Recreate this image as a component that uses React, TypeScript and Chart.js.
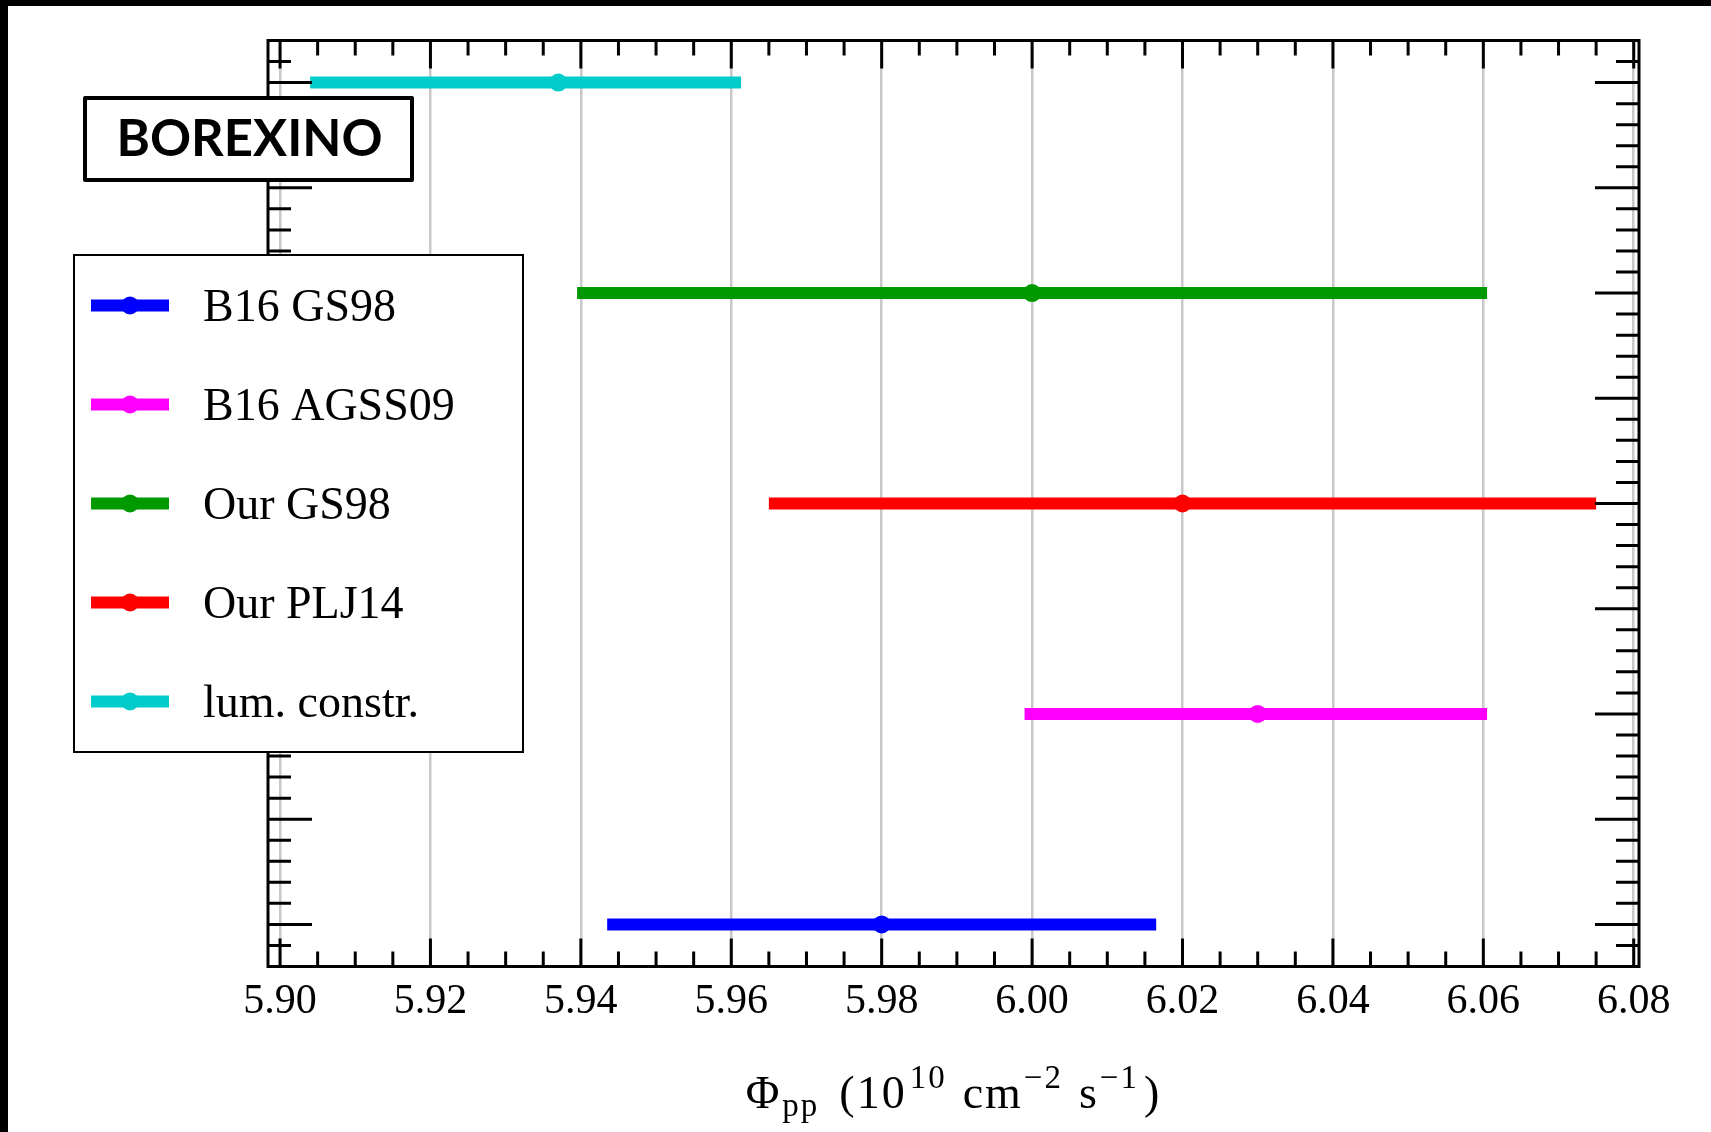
import React, { useEffect, useRef } from "react";
import { Chart, registerables } from "chart.js";

Chart.register(...registerables);

// ---- data ----
const SERIES_LABELS = ["B16 GS98", "B16 AGSS09", "Our GS98", "Our PLJ14", "lum. constr."];
const SERIES_ROWS = [1, 2, 4, 3, 5];
const SERIES_CENTERS = [5.98, 6.03, 6.0, 6.02, 5.937];
const SERIES_LOWS = [5.9435, 5.999, 5.9395, 5.965, 5.904];
const SERIES_HIGHS = [6.0165, 6.0605, 6.0605, 6.075, 5.9613];
const SERIES_COLORS = ["#0000ff", "#ff00ff", "#009900", "#ff0000", "#00cccc"];

const X_TICKS = [5.9, 5.92, 5.94, 5.96, 5.98, 6.0, 6.02, 6.04, 6.06, 6.08];
const X_TICK_LABELS = ["5.90", "5.92", "5.94", "5.96", "5.98", "6.00", "6.02", "6.04", "6.06", "6.08"];
const X_MIN = 5.8984;
const X_MAX = 6.0807;
const X_MINOR_STEP = 0.005;
const Y_MIN = 0.8;
const Y_MAX = 5.2;
const Y_MINOR_STEP = 0.1;
const Y_MAJOR_EVERY = 5;

const BOX_LABEL = "BOREXINO";

const W = 1703;
const H = 1126;
const SERIF = '"Liberation Serif", "DejaVu Serif", serif';

const framePlugin = {
  id: "frameTicks",
  afterDatasetsDraw(chart: any) {
    const { ctx, chartArea } = chart;
    const xs = chart.scales.x;
    const ys = chart.scales.y;
    const { left, right, top, bottom } = chartArea;
    ctx.save();
    ctx.strokeStyle = "#000";
    ctx.lineWidth = 3;
    ctx.lineCap = "butt";
    ctx.strokeRect(left, top, right - left, bottom - top);
    ctx.beginPath();
    // x ticks
    const nx = Math.round((X_TICKS[X_TICKS.length - 1] - X_TICKS[0]) / X_MINOR_STEP);
    for (let k = 0; k <= nx; k++) {
      const v = X_TICKS[0] + k * X_MINOR_STEP;
      const px = xs.getPixelForValue(v);
      const len = k % 4 === 0 ? 28 : 15;
      ctx.moveTo(px, bottom);
      ctx.lineTo(px, bottom - len);
      ctx.moveTo(px, top);
      ctx.lineTo(px, top + len);
    }
    // y ticks
    const k0 = Math.ceil(Y_MIN / Y_MINOR_STEP + 1e-6);
    const k1 = Math.floor(Y_MAX / Y_MINOR_STEP - 1e-6);
    for (let k = k0; k <= k1; k++) {
      const v = k * Y_MINOR_STEP;
      const py = ys.getPixelForValue(v);
      const len = k % Y_MAJOR_EVERY === 0 ? 44 : 23;
      ctx.moveTo(left, py);
      ctx.lineTo(left + len, py);
      ctx.moveTo(right, py);
      ctx.lineTo(right - len, py);
    }
    ctx.stroke();
    ctx.restore();
  },
  afterDraw(chart: any) {
    const { ctx, chartArea } = chart;
    ctx.save();
    // BOREXINO box
    const bx = 77, by = 92, bw = 327, bh = 82;
    ctx.fillStyle = "#fff";
    ctx.fillRect(bx, by, bw, bh);
    ctx.strokeStyle = "#000";
    ctx.lineWidth = 4;
    ctx.lineJoin = "round";
    ctx.strokeRect(bx, by, bw, bh);
    ctx.fillStyle = "#000";
    ctx.font = 'bold 52px "Comic Sans MS", "Lato", sans-serif';
    ctx.textAlign = "center";
    ctx.textBaseline = "alphabetic";
    ctx.fillText(BOX_LABEL, bx + bw / 2 + 1, 150, 266);

    // legend
    const lx = 66, ly = 249, lw = 449, lh = 497;
    ctx.fillStyle = "#fff";
    ctx.fillRect(lx, ly, lw, lh);
    ctx.lineWidth = 2;
    ctx.lineJoin = "miter";
    ctx.strokeRect(lx, ly, lw, lh);
    const rowY0 = 299.5;
    const rowStep = 99;
    SERIES_LABELS.forEach((lab, i) => {
      const y = rowY0 + i * rowStep;
      ctx.strokeStyle = SERIES_COLORS[i];
      ctx.lineWidth = 12;
      ctx.lineCap = "butt";
      ctx.beginPath();
      ctx.moveTo(83, y);
      ctx.lineTo(161, y);
      ctx.stroke();
      ctx.fillStyle = SERIES_COLORS[i];
      ctx.beginPath();
      ctx.arc(122, y, 9, 0, Math.PI * 2);
      ctx.fill();
      ctx.fillStyle = "#000";
      ctx.font = `46px ${SERIF}`;
      ctx.textAlign = "left";
      ctx.textBaseline = "alphabetic";
      ctx.fillText(lab, 195, y + 15);
    });

    // x-axis title with sub/superscripts
    const main = `46px ${SERIF}`;
    const small = `33px ${SERIF}`;
    const segs = [
      { t: "\u03A6", f: main, dy: 0, gap: 1 },
      { t: "pp", f: small, dy: 8, gap: 20 },
      { t: "(10", f: main, dy: 0, gap: 3 },
      { t: "10", f: small, dy: -20, gap: 16 },
      { t: "cm", f: main, dy: 0, gap: 1 },
      { t: "\u22122", f: small, dy: -20, gap: 16 },
      { t: "s", f: main, dy: 0, gap: 1 },
      { t: "\u22121", f: small, dy: -20, gap: 5 },
      { t: ")", f: main, dy: 0, gap: 0 },
    ];
    (ctx as any).letterSpacing = "2px";
    let total = 0;
    const widths = segs.map((s) => {
      ctx.font = s.f;
      const w = ctx.measureText(s.t).width + s.gap;
      total += w;
      return w;
    });
    let x = (chartArea.left + chartArea.right) / 2 - total / 2;
    const base = 1102;
    ctx.fillStyle = "#000";
    ctx.textAlign = "left";
    segs.forEach((s, i) => {
      ctx.font = s.f;
      ctx.fillText(s.t, x, base + s.dy);
      x += widths[i];
    });
    (ctx as any).letterSpacing = "0px";
    ctx.restore();
  },
};

export default function App() {
  const ref = useRef<HTMLCanvasElement>(null);
  useEffect(() => {
    document.body.style.margin = "0";
    document.body.style.overflow = "hidden";
    const datasets = SERIES_LABELS.map((lab, i) => ({
      label: lab,
      data: [
        { x: SERIES_LOWS[i], y: SERIES_ROWS[i] },
        { x: SERIES_CENTERS[i], y: SERIES_ROWS[i] },
        { x: SERIES_HIGHS[i], y: SERIES_ROWS[i] },
      ],
      showLine: true,
      borderColor: SERIES_COLORS[i],
      backgroundColor: SERIES_COLORS[i],
      borderWidth: 12,
      borderCapStyle: "butt",
      pointRadius: [0, 9, 0],
      pointHoverRadius: [0, 9, 0],
      pointBorderWidth: 0,
      pointBackgroundColor: SERIES_COLORS[i],
      pointStyle: "circle",
    }));
    const chart = new Chart(ref.current as HTMLCanvasElement, {
      type: "scatter",
      data: { datasets } as any,
      options: {
        responsive: false,
        animation: false,
        devicePixelRatio: 1,
        events: [],
        layout: { padding: { left: 260, top: 34.5, right: 72, bottom: 0 } },
        plugins: { legend: { display: false }, tooltip: { enabled: false }, title: { display: false } },
        scales: {
          x: {
            type: "linear",
            min: X_MIN,
            max: X_MAX,
            afterBuildTicks: (s: any) => {
              s.ticks = X_TICKS.map((v) => ({ value: v }));
            },
            afterFit: (s: any) => {
              s.height = 165.5;
            },
            grid: { color: "#c8c8c8", lineWidth: 2.5, drawTicks: false },
            border: { display: false },
            ticks: {
              autoSkip: false,
              maxRotation: 0,
              padding: 10,
              color: "#000",
              font: { family: SERIF, size: 42 },
              callback: (_v: any, i: number) => X_TICK_LABELS[i],
            },
          },
          y: {
            type: "linear",
            display: false,
            min: Y_MIN,
            max: Y_MAX,
          },
        },
      } as any,
      plugins: [framePlugin],
    });
    return () => chart.destroy();
  }, []);
  return (
    <div
      style={{
        width: 1711,
        height: 1132,
        background: "#000",
        paddingLeft: 8,
        paddingTop: 6,
        boxSizing: "border-box",
      }}
    >
      <div style={{ width: W, height: H, background: "#fff" }}>
        <canvas ref={ref} width={W} height={H} style={{ display: "block", width: W, height: H }} />
      </div>
    </div>
  );
}
